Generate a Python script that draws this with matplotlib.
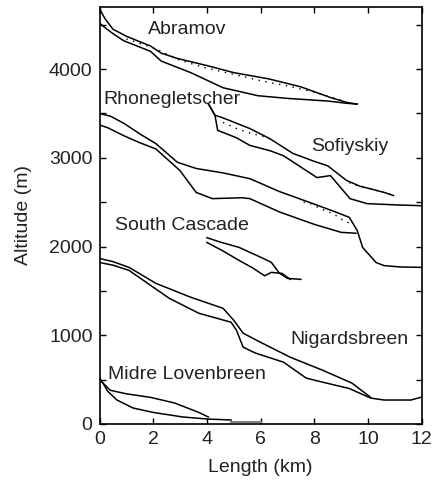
import numpy as np
import matplotlib.pyplot as plt

plt.rcParams['font.family'] = ['Liberation Sans', 'DejaVu Sans']

# glacier profiles (length in km, altitude in m)
abr_up_x = [0, 0.2, 0.5, 1.0, 1.9, 2.3, 2.9, 4.0, 5.0, 6.3, 7.5, 8.6, 9.2, 9.6]
abr_up_y = [4680, 4570, 4450, 4370, 4260, 4180, 4120, 4040, 3960, 3890, 3800, 3680, 3625, 3605]
abr_lo_x = [0, 0.15, 0.5, 0.9, 1.9, 2.3, 3.4, 4.6, 5.9, 7.0, 8.5, 9.2, 9.6]
abr_lo_y = [4520, 4480, 4400, 4320, 4200, 4090, 3960, 3790, 3700, 3670, 3640, 3615, 3605]
abr_dot_x = [1.0, 2.0, 3.0, 4.0, 5.0, 6.0, 7.0, 8.0, 9.0]
abr_dot_y = [4340, 4240, 4100, 4010, 3940, 3870, 3810, 3740, 3650]

rho_up_x = [0, 0.4, 0.9, 1.5, 2.1, 2.9, 3.6, 4.6, 5.6, 6.7, 7.8, 8.7, 9.3, 9.6, 9.8, 10.3, 10.6, 11.2, 12.0]
rho_up_y = [3500, 3470, 3390, 3270, 3160, 2950, 2880, 2830, 2765, 2620, 2500, 2400, 2330, 2180, 1990, 1820, 1785, 1770, 1765]
rho_lo_x = [0, 0.3, 0.9, 1.5, 2.1, 3.0, 3.6, 4.2, 5.3, 5.6, 6.7, 8.0, 9.0, 9.55]
rho_lo_y = [3370, 3340, 3250, 3170, 3100, 2855, 2610, 2540, 2550, 2540, 2390, 2250, 2160, 2150]
rho_dot_x = [7.6, 7.9, 8.2, 8.7, 9.1, 9.35]
rho_dot_y = [2500, 2480, 2430, 2370, 2290, 2260]

sof_up_x = [4.05, 4.3, 4.6, 5.6, 6.35, 7.2, 8.0, 8.5, 9.2, 9.7, 10.1, 10.6, 10.95]
sof_up_y = [3610, 3480, 3450, 3330, 3215, 3050, 2960, 2910, 2745, 2680, 2650, 2610, 2575]
sof_lo_x = [4.05, 4.3, 4.4, 5.1, 5.6, 6.35, 6.85, 8.1, 8.6, 9.33, 9.96, 11.0, 12.0]
sof_lo_y = [3610, 3480, 3310, 3226, 3140, 3080, 3024, 2777, 2800, 2540, 2484, 2470, 2460]
sof_dot_x = [4.6, 5.1, 5.6, 6.1, 6.5, 9.3, 9.7, 10.1, 10.6, 10.9]
sof_dot_y = [3400, 3330, 3280, 3240, 3200, 2720, 2675, 2650, 2608, 2580]

sca_up_x = [4.0, 4.5, 5.2, 6.1, 6.4, 6.7, 7.0, 7.5]
sca_up_y = [2100, 2050, 1990, 1866, 1821, 1700, 1641, 1630]
sca_lo_x = [4.0, 4.6, 5.2, 5.7, 6.15, 6.4, 6.8, 7.1]
sca_lo_y = [2046, 1950, 1843, 1760, 1670, 1709, 1697, 1630]

nig_up_x = [0, 0.5, 1.1, 2.1, 3.4, 4.6, 5.0, 5.35, 6.0, 7.1, 8.3, 9.4, 10.1]
nig_up_y = [1866, 1830, 1765, 1585, 1428, 1304, 1169, 1023, 920, 753, 607, 461, 300]
nig_lo_x = [0, 0.5, 1.1, 2.6, 3.7, 4.9, 5.1, 5.35, 5.8, 6.85, 7.7, 8.3, 9.3, 10.1, 10.6, 11.6, 12.0]
nig_lo_y = [1820, 1790, 1731, 1416, 1248, 1147, 1057, 866, 800, 697, 517, 472, 400, 292, 270, 270, 303]

mid_up_x = [0, 0.1, 0.4, 1.0, 1.9, 2.8, 3.7, 4.05]
mid_up_y = [517, 470, 380, 340, 300, 236, 130, 79]
mid_lo_x = [0, 0.15, 0.3, 0.65, 1.25, 2.0, 3.1, 4.0, 4.9]
mid_lo_y = [517, 450, 370, 270, 180, 130, 79, 56, 45]
mid_tail_x = [4.9, 6.0]
mid_tail_y = [25, 25]

names = ['Abramov', 'Rhonegletscher', 'Sofiyskiy', 'South Cascade', 'Nigardsbreen', 'Midre Lovenbreen']
name_x = [1.81, 0.13, 7.9, 0.58, 7.1, 0.32]
name_y = [4395, 3611, 3072, 2188, 896, 502]

fig = plt.figure(figsize=(4.39, 4.83), dpi=100)
ax = fig.add_axes([0.2267, 0.1222, 0.7339, 0.8633])

solid = [(abr_up_x, abr_up_y), (abr_lo_x, abr_lo_y),
         (rho_up_x, rho_up_y), (rho_lo_x, rho_lo_y),
         (sof_up_x, sof_up_y), (sof_lo_x, sof_lo_y),
         (sca_up_x, sca_up_y), (sca_lo_x, sca_lo_y),
         (nig_up_x, nig_up_y), (nig_lo_x, nig_lo_y),
         (mid_up_x, mid_up_y), (mid_lo_x, mid_lo_y)]
for xs, ys in solid:
    ax.plot(xs, ys, color='black', lw=1.1)

for xs, ys in [(abr_dot_x, abr_dot_y), (rho_dot_x, rho_dot_y)]:
    ax.plot(xs, ys, color='black', lw=1.0, ls=(0, (1, 4)))
ax.plot(sof_dot_x[:5], sof_dot_y[:5], color='black', lw=1.0, ls=(0, (1, 4)))
ax.plot(sof_dot_x[5:], sof_dot_y[5:], color='black', lw=1.0, ls=(0, (1, 4)))
ax.plot(mid_tail_x, mid_tail_y, color='gray', lw=1.5)

for n, tx, ty in zip(names, name_x, name_y):
    ax.text(tx, ty, n, fontsize=14, color='#222222', ha='left', va='baseline')

ax.set_xlim(0, 12)
ax.set_ylim(0, 4700)
ax.set_xticks(np.arange(0, 13, 2))
ax.set_yticks([0, 1000, 2000, 3000, 4000])
ax.set_yticks([500, 1500, 2500, 3500, 4500], minor=True)
ax.tick_params(which='both', direction='in', top=True, right=True, length=4,
               width=1, labelsize=14, labelcolor='#222222', pad=5)
ax.set_xlabel('Length (km)', fontsize=14, color='#222222', labelpad=8)
ax.set_ylabel('Altitude (m)', fontsize=14, color='#222222', labelpad=12)
for s in ax.spines.values():
    s.set_linewidth(1.2)

plt.savefig('out.png', dpi=100)
